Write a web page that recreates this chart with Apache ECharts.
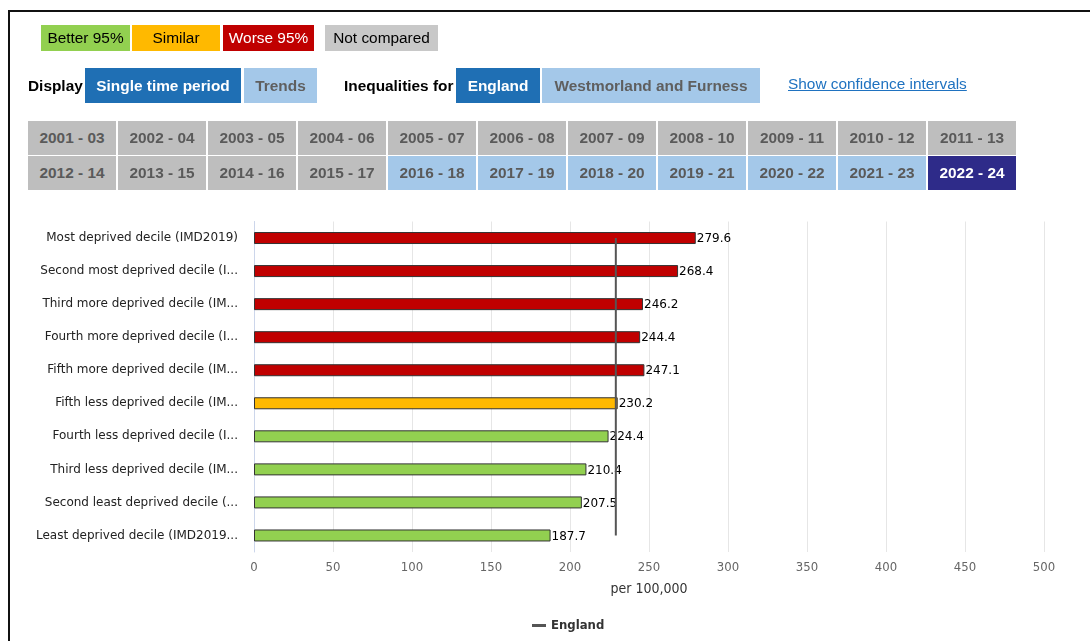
<!DOCTYPE html>
<html>
<head>
<meta charset="utf-8">
<script src="https://cdn.jsdelivr.net/npm/echarts@6/dist/echarts.min.js"></script>
<style>
  html, body { margin: 0; padding: 0; background: #fff; width: 1090px; height: 641px; overflow: hidden; }
  #chart { position: absolute; left: 0; top: 0; width: 1090px; height: 641px; }
  #frame { position: absolute; left: 8px; top: 10px; width: 2000px; height: 2000px; border-left: 2px solid #111; border-top: 2px solid #111; box-sizing: border-box; pointer-events: none; }
  .ui { position: absolute; font-family: "Liberation Sans", Arial, sans-serif; font-size: 15.4px; box-sizing: border-box; display: flex; align-items: center; justify-content: center; white-space: nowrap; }
  .b { font-weight: bold; }
  .leg { top: 25px; height: 26px; color: #000; }
  .btn { top: 68px; height: 35px; font-weight: bold; }
  .dark { background: #1F6FB4; color: #fff; }
  .light { background: #A4C8E9; color: #5f5f5f; }
  .yr { height: 34px; width: 88px; font-weight: bold; color: #5a5a5a; background: #BEBEBE; }
  .yr.light { background: #A4C8E9; color: #5a5a5a; }
  .yr.sel { background: #2E2B89; color: #fff; }
  .txt { justify-content: flex-start; color: #000; }
  .link { color: #1F72C0; text-decoration: underline; }
</style>
</head>
<body>
<div id="chart"></div>
<div id="frame"></div>
<div id="ui"></div>
<script>
// ---- data ----
var categories = [
  "Most deprived decile (IMD2019)",
  "Second most deprived decile (I...",
  "Third more deprived decile (IM...",
  "Fourth more deprived decile (I...",
  "Fifth more deprived decile (IM...",
  "Fifth less deprived decile (IM...",
  "Fourth less deprived decile (I...",
  "Third less deprived decile (IM...",
  "Second least deprived decile (...",
  "Least deprived decile (IMD2019..."
];
var values = [279.6, 268.4, 246.2, 244.4, 247.1, 230.2, 224.4, 210.4, 207.5, 187.7];
var significance = ["Worse", "Worse", "Worse", "Worse", "Worse", "Similar", "Better", "Better", "Better", "Better"];
var englandValue = 229;
var xTicks = [0, 50, 100, 150, 200, 250, 300, 350, 400, 450, 500];
var legendKeys = ["Better 95%", "Similar", "Worse 95%", "Not compared"];
var periodsRow1 = ["2001 - 03","2002 - 04","2003 - 05","2004 - 06","2005 - 07","2006 - 08","2007 - 09","2008 - 10","2009 - 11","2010 - 12","2011 - 13"];
var periodsRow2 = ["2012 - 14","2013 - 15","2014 - 16","2015 - 17","2016 - 18","2017 - 19","2018 - 20","2019 - 21","2020 - 22","2021 - 23","2022 - 24"];
var selectedPeriod = "2022 - 24";
var periodsWithData = ["2016 - 18","2017 - 19","2018 - 20","2019 - 21","2020 - 22","2021 - 23"];

var colourMap = { Better: "#92D050", Similar: "#FFB900", Worse: "#C00000" };

// ---- HTML controls ----
var ui = document.getElementById("ui");
function add(cls, text, l, t, w, h, extra) {
  var d = document.createElement("div");
  d.className = "ui " + cls;
  d.textContent = text;
  d.style.left = l + "px";
  if (t !== null) d.style.top = t + "px";
  if (w !== null) d.style.width = w + "px";
  if (h !== null) d.style.height = h + "px";
  if (extra) for (var k in extra) d.style[k] = extra[k];
  ui.appendChild(d);
  return d;
}
var legPos = [[41, 89, "#92D050", "#000"], [132, 88, "#FFB900", "#000"], [223, 91, "#C00000", "#fff"], [325, 113, "#C8C8C8", "#000"]];
legendKeys.forEach(function (k, i) {
  var p = legPos[i];
  add("leg", k, p[0], null, p[1], null, { background: p[2], color: p[3] });
});
add("b txt", "Display", 28, 68, null, 35);
add("btn dark", "Single time period", 85, null, 156, null);
add("btn light", "Trends", 244, null, 73, null);
add("b txt", "Inequalities for", 344, 68, null, 35);
add("btn dark", "England", 456, null, 84, null);
add("btn light", "Westmorland and Furness", 542, null, 218, null);
add("txt link", "Show confidence intervals", 788, 66, null, 35);
periodsRow1.forEach(function (p, i) {
  add("yr", p, 28 + i * 90, 121, null, null);
});
periodsRow2.forEach(function (p, i) {
  var cls = "yr";
  if (p === selectedPeriod) cls += " sel";
  else if (periodsWithData.indexOf(p) >= 0) cls += " light";
  add(cls, p, 28 + i * 90, 156, null, null);
});

// ---- chart ----
var chart = echarts.init(document.getElementById("chart"), null, { renderer: "canvas" });
var barData = values.map(function (v, i) {
  return { value: v, itemStyle: { color: colourMap[significance[i]] } };
});
var englandData = categories.map(function () { return englandValue; });

chart.setOption({
  animation: false,
  textStyle: { fontFamily: "DejaVu Sans" },
  grid: { left: 254, right: 46, top: 221.5, height: 330.5, containLabel: false },
  legend: {
    show: true,
    left: 527,
    top: 614,
    data: [{ name: "England", icon: "rect" }],
    itemWidth: 14,
    itemHeight: 3,
    itemGap: 6,
    textStyle: { fontFamily: "DejaVu Sans Condensed, DejaVu Sans", fontWeight: "bold", fontSize: 13, color: "#333" }
  },
  xAxis: {
    type: "value",
    min: xTicks[0],
    max: xTicks[xTicks.length - 1],
    interval: xTicks[1] - xTicks[0],
    name: "per 100,000",
    nameLocation: "middle",
    nameGap: 30,
    nameTextStyle: { fontFamily: "DejaVu Sans Condensed, DejaVu Sans", fontSize: 14, color: "#333" },
    axisLine: { show: false },
    axisTick: { show: false },
    axisLabel: { margin: 9, color: "#666", fontSize: 13, fontFamily: "DejaVu Sans Condensed, DejaVu Sans" },
    splitLine: { show: true, lineStyle: { color: "#e6e6e6", width: 1 } }
  },
  yAxis: {
    type: "category",
    data: categories,
    inverse: true,
    axisLine: { show: true, lineStyle: { color: "#ccd6eb", width: 1 } },
    axisTick: { show: false },
    axisLabel: { margin: 16, color: "#222", fontSize: 12, fontFamily: "DejaVu Sans" },
    splitLine: { show: false }
  },
  series: [
    {
      name: "Value",
      type: "bar",
      data: barData,
      barWidth: 12,
      itemStyle: { borderColor: "#333", borderWidth: 1 },
      label: {
        show: true,
        position: "right",
        distance: 1,
        offset: [0, 1],
        color: "#000",
        fontSize: 12,
        fontFamily: "DejaVu Sans",
        formatter: function (p) { return p.value.toFixed(1); }
      },
      z: 2
    },
    {
      name: "England",
      type: "line",
      data: englandData,
      symbol: "none",
      showSymbol: false,
      lineStyle: { color: "#555", width: 2 },
      itemStyle: { color: "#555" },
      z: 3
    }
  ]
});
</script>
</body>
</html>
